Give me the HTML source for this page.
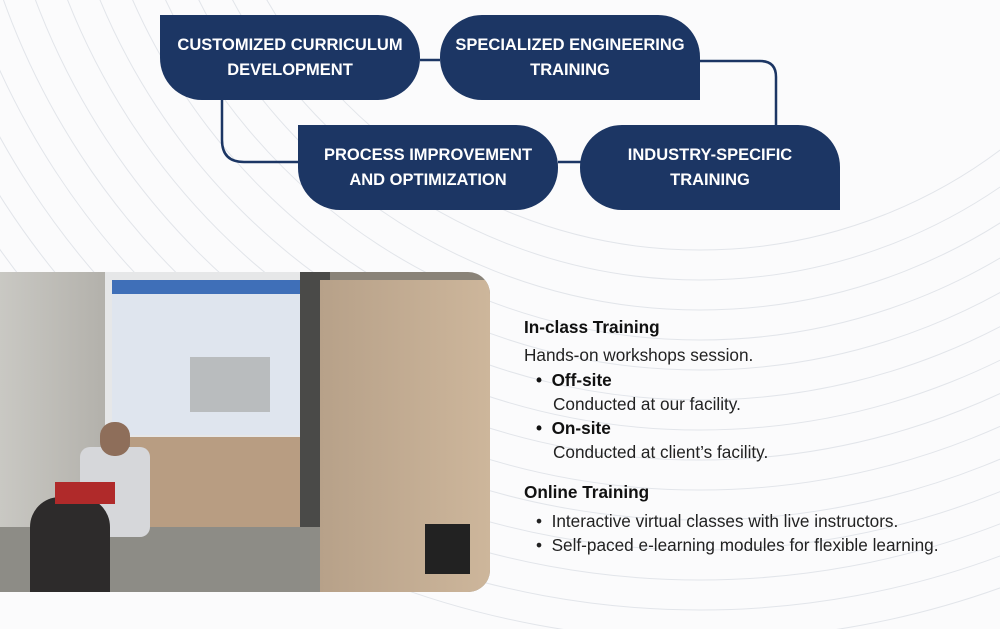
<!DOCTYPE html>
<html><head><meta charset="utf-8"><style>
body{margin:0;width:1000px;height:629px;background:#fbfbfc;position:relative;overflow:hidden;font-family:"Liberation Sans",sans-serif}
.b{position:absolute;width:260px;height:85px;background:#1c3664;color:#fff;font-weight:bold;font-size:16.5px;display:flex;align-items:center;justify-content:center;text-align:center;line-height:25px;box-sizing:border-box}
.t{position:absolute;left:524px;font-size:17.2px;color:#222;white-space:nowrap}
</style></head><body>
<svg width="1000" height="629" style="position:absolute;left:0;top:0">
<g fill="none" stroke="#e2e5ea" stroke-width="1">
<circle cx="700" cy="-250" r="500"/><circle cx="700" cy="-250" r="530"/><circle cx="700" cy="-250" r="560"/><circle cx="700" cy="-250" r="590"/><circle cx="700" cy="-250" r="620"/><circle cx="700" cy="-250" r="650"/><circle cx="700" cy="-250" r="680"/><circle cx="700" cy="-250" r="710"/><circle cx="700" cy="-250" r="740"/><circle cx="700" cy="-250" r="770"/><circle cx="700" cy="-250" r="800"/><circle cx="700" cy="-250" r="830"/><circle cx="700" cy="-250" r="860"/><circle cx="700" cy="-250" r="890"/>
</g>
<g fill="none" stroke="#1c3664" stroke-width="2.5">
<path d="M420 60H440"/>
<path d="M700 61H760Q776 61 776 77V126"/>
<path d="M222 100V140Q222 162 244 162H300"/>
<path d="M558 162H582"/>
</g>
</svg>
<div class="b" style="left:160px;top:15px;border-radius:0 42px 42px 42px">CUSTOMIZED CURRICULUM<br>DEVELOPMENT</div>
<div class="b" style="left:440px;top:15px;border-radius:42px 42px 0 42px">SPECIALIZED ENGINEERING<br>TRAINING</div>
<div class="b" style="left:298px;top:125px;border-radius:0 42px 42px 42px">PROCESS IMPROVEMENT<br>AND OPTIMIZATION</div>
<div class="b" style="left:580px;top:125px;border-radius:42px 42px 0 42px">INDUSTRY-SPECIFIC<br>TRAINING</div>

<div style="position:absolute;left:0;top:272px;width:490px;height:320px;border-radius:0 22px 22px 0;overflow:hidden;background:#8a8378">
<div style="position:absolute;left:0;top:0;width:110px;height:320px;background:linear-gradient(90deg,#c9c8c3,#b2b0aa)"></div>
<div style="position:absolute;left:105px;top:0;width:210px;height:170px;background:#e6e7e8"></div>
<div style="position:absolute;left:112px;top:8px;width:192px;height:155px;background:#dfe5ee"></div>
<div style="position:absolute;left:112px;top:8px;width:192px;height:14px;background:#3f6fb8"></div>
<div style="position:absolute;left:190px;top:85px;width:80px;height:55px;background:#b9bcbe"></div>
<div style="position:absolute;left:130px;top:165px;width:180px;height:90px;background:#b89d82"></div>
<div style="position:absolute;left:300px;top:0;width:30px;height:260px;background:#4a4a48"></div>
<div style="position:absolute;left:320px;top:8px;width:170px;height:312px;background:linear-gradient(90deg,#b7a189,#cdb69b)"></div>
<div style="position:absolute;left:0;top:255px;width:320px;height:65px;background:#8d8c86"></div>
<div style="position:absolute;left:80px;top:175px;width:70px;height:90px;background:#d6d7da;border-radius:10px"></div>
<div style="position:absolute;left:100px;top:150px;width:30px;height:34px;background:#8e6e5a;border-radius:14px"></div>
<div style="position:absolute;left:30px;top:225px;width:80px;height:95px;background:#2d2b2b;border-radius:30px 30px 0 0"></div>
<div style="position:absolute;left:55px;top:210px;width:60px;height:22px;background:#b02a2a"></div>
<div style="position:absolute;left:425px;top:252px;width:45px;height:50px;background:#222"></div>
</div>

<div class="t" style="top:317px;font-weight:bold;color:#111">In-class Training</div>
<div class="t" style="top:345px">Hands-on workshops session.</div>
<div class="t" style="top:370px;left:536px;font-weight:bold;color:#111">•&nbsp; Off-site</div>
<div class="t" style="top:394px;left:553px">Conducted at our facility.</div>
<div class="t" style="top:418px;left:536px;font-weight:bold;color:#111">•&nbsp; On-site</div>
<div class="t" style="top:442px;left:553px">Conducted at client’s facility.</div>
<div class="t" style="top:482px;font-weight:bold;color:#111">Online Training</div>
<div class="t" style="top:511px;left:536px">•&nbsp; Interactive virtual classes with live instructors.</div>
<div class="t" style="top:535px;left:536px">•&nbsp; Self-paced e-learning modules for flexible learning.</div>
</body></html>
